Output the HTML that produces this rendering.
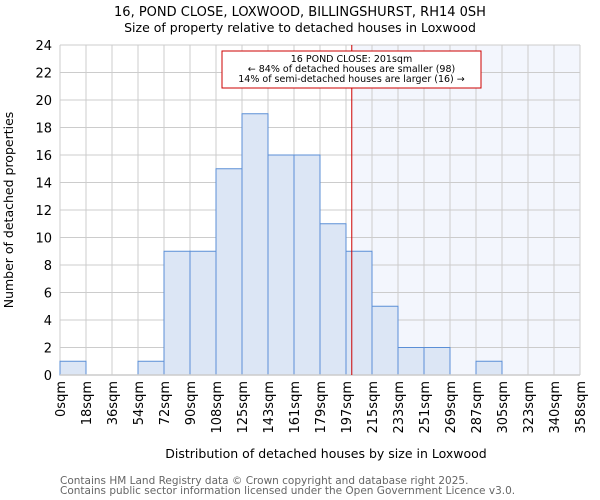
<!DOCTYPE html>
<html><head><meta charset="utf-8"><style>
body{margin:0;background:#fff}
svg{display:block;font-family:"DejaVu Sans","Liberation Sans",sans-serif}
</style></head><body>
<svg id="c" width="600" height="500" xmlns="http://www.w3.org/2000/svg">
<text x="300" y="16" text-anchor="middle" font-size="13" fill="#000">16, POND CLOSE, LOXWOOD, BILLINGSHURST, RH14 0SH</text>
<text x="300" y="32" text-anchor="middle" font-size="12.5" fill="#000">Size of property relative to detached houses in Loxwood</text>
<g id="plot"></g>
<text x="326" y="458" text-anchor="middle" font-size="12.5" fill="#000">Distribution of detached houses by size in Loxwood</text>
<text transform="translate(13,210) rotate(-90)" text-anchor="middle" font-size="12.5" fill="#000">Number of detached properties</text>
<text x="60" y="484" font-size="10.5" fill="#666">Contains HM Land Registry data © Crown copyright and database right 2025.</text>
<text x="60" y="494" font-size="10.5" fill="#666">Contains public sector information licensed under the Open Government Licence v3.0.</text>
</svg>
<script>
const categories=["0sqm","18sqm","36sqm","54sqm","72sqm","90sqm","108sqm","125sqm","143sqm","161sqm","179sqm","197sqm","215sqm","233sqm","251sqm","269sqm","287sqm","305sqm","323sqm","340sqm","358sqm"];
const binEdges=[0,18,36,54,72,90,108,125,143,161,179,197,215,233,251,269,287,305,323,340,358];
const counts=[1,0,0,1,9,9,15,19,16,16,11,9,5,2,2,0,1,0,0,0];
const yTicks=[0,2,4,6,8,10,12,14,16,18,20,22,24];
const propertySize=201;
const annotationLines=["16 POND CLOSE: 201sqm","← 84% of detached houses are smaller (98)","14% of semi-detached houses are larger (16) →"];

const NS="http://www.w3.org/2000/svg";
const L=60,R=580,T=45,B=375,yMax=24;
const n=counts.length,bw=(R-L)/n;
const xIdx=i=>L+i*bw;
const y=v=>B-(v/yMax)*(B-T);
function xVal(v){for(let i=0;i<binEdges.length-1;i++){if(v<=binEdges[i+1]){return xIdx(i)+bw*(v-binEdges[i])/(binEdges[i+1]-binEdges[i]);}}return R;}
const g=document.getElementById('plot');
function mk(t,a){const e=document.createElementNS(NS,t);for(const k in a)e.setAttribute(k,a[k]);g.appendChild(e);return e;}
const rx=xVal(propertySize);
let e=mk('rect',{x:rx,y:T,width:R-rx,height:B-T,fill:'#f3f6fd'});


yTicks.forEach(t=>{
  let l=mk('line',{x1:L,x2:R,y1:y(t),y2:y(t),stroke:'#cccccc','stroke-width':1});
  
  
  let tx=mk('text',{x:L-8,y:y(t)+5,'text-anchor':'end','font-size':13,fill:'#000'});
  tx.textContent=t;
  
  
});
categories.forEach((c,i)=>{
  let l=mk('line',{x1:xIdx(i),x2:xIdx(i),y1:T,y2:B,stroke:'#cccccc','stroke-width':1});
  
  
  let tx=mk('text',{transform:`translate(${xIdx(i)+5},381) rotate(-90)`,'text-anchor':'end','font-size':13,fill:'#000'});
  tx.textContent=c;
  
  
});
counts.forEach((v,i)=>{
  if(v<=0)return;
  let r=mk('rect',{x:xIdx(i),y:y(v),width:bw,height:B-y(v),fill:'#dce6f5',stroke:'#5b8fd6','stroke-width':1});
  
  
});
let ax=mk('line',{x1:L,x2:R,y1:B,y2:B,stroke:'#cccccc','stroke-width':1.5});


let rl=mk('line',{x1:rx,x2:rx,y1:T,y2:B,stroke:'#cc0000','stroke-width':1});


let box=mk('rect',{x:222,y:51,width:259,height:37,fill:'#fff',stroke:'#cc0000','stroke-width':1});


annotationLines.forEach((s,i)=>{
  let tx=mk('text',{x:351.5,y:62+i*10,'text-anchor':'middle','font-size':9.5,fill:'#000'});
  tx.textContent=s;
  
  
});
</script>
</body></html>
